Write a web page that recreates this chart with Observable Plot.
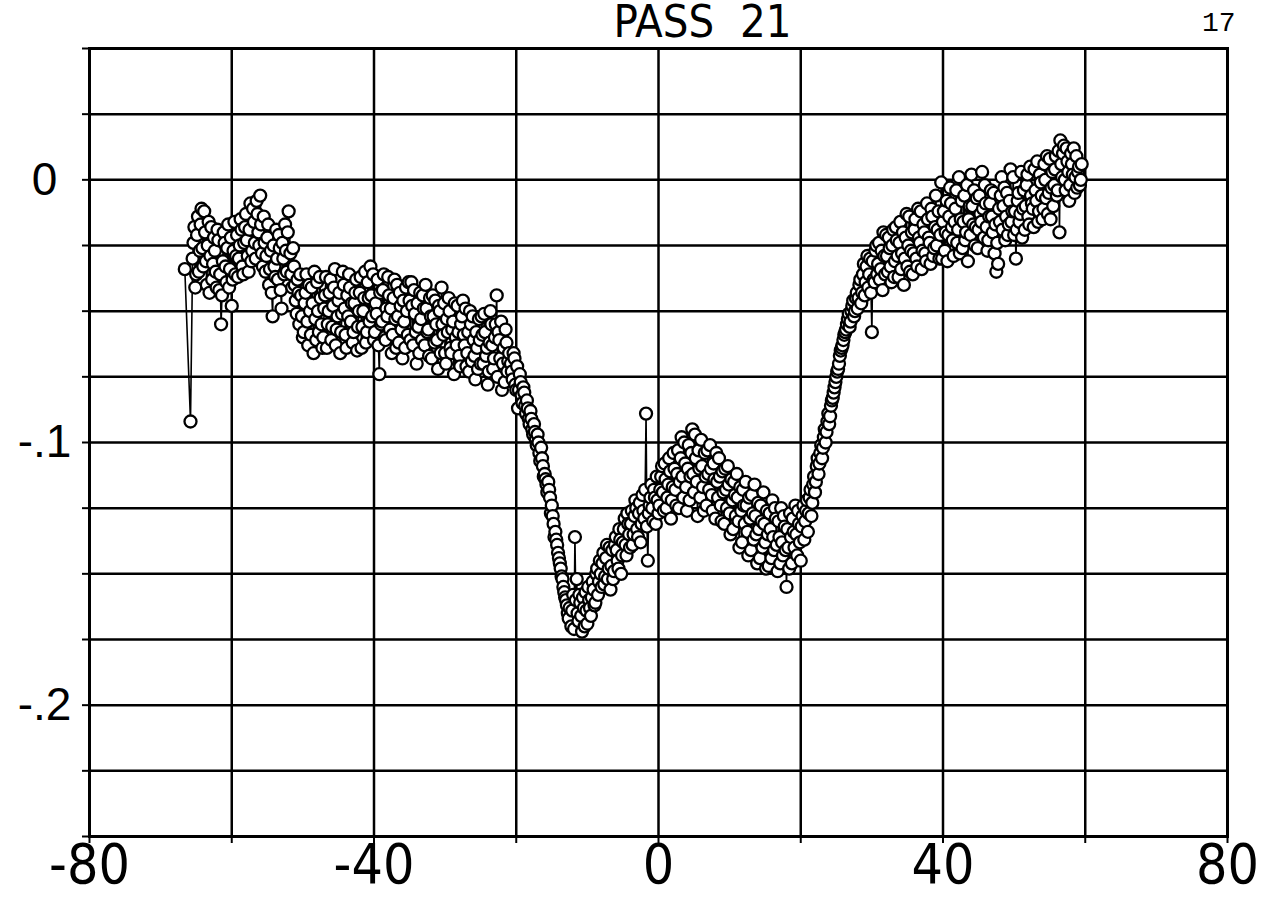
<!DOCTYPE html>
<html>
<head>
<meta charset="utf-8">
<script src="https://cdn.jsdelivr.net/npm/d3@7"></script>
<script src="https://cdn.jsdelivr.net/npm/@observablehq/plot@0.6"></script>
<style>
  html, body { margin: 0; padding: 0; background: #fff; }
  #chart svg { display: block; }
</style>
</head>
<body>
<div id="chart"></div>
<script>
// ---- text ----
const titleText = "PASS  21";
const pageNumber = "17";
const xLabelTicks = [-80, -40, 0, 40, 80];
const xLabelText = ["-80", "-40", "0", "40", "80"];
const yLabelTicks = [0, -0.1, -0.2];
const yLabelText = ["0", "-.1", "-.2"];
const xGrid = [-80, -60, -40, -20, 0, 20, 40, 60, 80];
const yGrid = [0.05, 0.025, 0, -0.025, -0.05, -0.075, -0.1, -0.125, -0.15, -0.175, -0.2, -0.225, -0.25];

// ---- data ----
const startX = [-66.6, -65.8];
const startY = [-.034, -.092];

const segAX = [-65.5,-65.25,-65,-64.75,-64.5,-64.25,-64,-63.75,-63.5,-63.25,-63,-62.75,-62.5,-62.25,-62,-61.75,-61.5,-61.25,-61,-60.75,-60.5,-60.25,-60,-59.75,-59.5,-59.25,-59,-58.75,-58.5,-58.25,-58,-57.75,-57.5,-57.25,-57,-56.75,-56.5,-56.25,-56,-55.75,-55.5,-55.25,-55,-54.75,-54.5,-54.25,-54,-53.75,-53.5,-53.25,-53,-52.75,-52.5,-52.25,-52];
const segAY = [-.030,-.018,-.036,-.014,-.027,-.011,-.033,-.020,-.040,-.016,-.029,-.038,-.022,-.035,-.019,-.042,-.055,-.031,-.024,-.039,-.017,-.034,-.048,-.027,-.036,-.021,-.030,-.015,-.033,-.024,-.013,-.029,-.019,-.031,-.011,-.024,-.008,-.020,-.006,-.028,-.014,-.035,-.022,-.040,-.027,-.052,-.033,-.019,-.038,-.026,-.049,-.030,-.017,-.035,-.012];
const segA2X = [-65.375,-65.125,-64.875,-64.625,-64.375,-64.125,-63.875,-63.625,-63.375,-63.125,-62.875,-62.625,-62.375,-62.125,-61.875,-61.625,-61.375,-61.125,-60.875,-60.625,-60.375,-60.125,-59.875,-59.625,-59.375,-59.125,-58.875,-58.625,-58.375,-58.125,-57.875,-57.625,-57.375,-57.125,-56.875,-56.625,-56.375,-56.125,-55.875,-55.625,-55.375,-55.125,-54.875,-54.625,-54.375,-54.125,-53.875,-53.625,-53.375,-53.125,-52.875,-52.625,-52.375,-52.125];
const segA2Y = [-.024,-.041,-.021,-.035,-.017,-.026,-.012,-.031,-.025,-.043,-.018,-.032,-.027,-.041,-.023,-.036,-.044,-.020,-.033,-.026,-.041,-.022,-.038,-.016,-.029,-.037,-.025,-.019,-.036,-.018,-.023,-.035,-.009,-.027,-.016,-.030,-.013,-.025,-.017,-.033,-.024,-.029,-.017,-.034,-.043,-.025,-.037,-.030,-.021,-.042,-.024,-.036,-.027,-.020];

const segBX = [-51.75,-51.5,-51.25,-51,-50.75,-50.5,-50.25,-50,-49.75,-49.5,-49.25,-49,-48.75,-48.5,-48.25,-48,-47.75,-47.5,-47.25,-47,-46.75,-46.5,-46.25,-46,-45.75,-45.5,-45.25,-45,-44.75,-44.5,-44.25,-44,-43.75,-43.5,-43.25,-43,-42.75,-42.5,-42.25,-42,-41.75,-41.5,-41.25,-41,-40.75,-40.5,-40.25,-40];
const segBY = [-.028,-.041,-.033,-.046,-.038,-.055,-.044,-.060,-.047,-.036,-.063,-.050,-.041,-.066,-.053,-.039,-.058,-.045,-.064,-.049,-.037,-.055,-.043,-.061,-.048,-.034,-.057,-.046,-.066,-.051,-.040,-.059,-.044,-.036,-.054,-.062,-.047,-.038,-.056,-.043,-.064,-.050,-.035,-.058,-.045,-.033,-.052,-.061];
const segB2X = [-51.625,-51.375,-51.125,-50.875,-50.625,-50.375,-50.125,-49.875,-49.625,-49.375,-49.125,-48.875,-48.625,-48.375,-48.125,-47.875,-47.625,-47.375,-47.125,-46.875,-46.625,-46.375,-46.125,-45.875,-45.625,-45.375,-45.125,-44.875,-44.625,-44.375,-44.125,-43.875,-43.625,-43.375,-43.125,-42.875,-42.625,-42.375,-42.125,-41.875,-41.625,-41.375,-41.125,-40.875,-40.625,-40.375,-40.125];
const segB2Y = [-.036,-.026,-.040,-.051,-.043,-.036,-.052,-.058,-.043,-.054,-.040,-.059,-.047,-.035,-.061,-.050,-.037,-.055,-.060,-.044,-.064,-.050,-.038,-.056,-.041,-.063,-.052,-.043,-.058,-.035,-.049,-.064,-.052,-.041,-.047,-.058,-.043,-.065,-.050,-.037,-.056,-.045,-.062,-.039,-.054,-.044,-.036];

const segCX = [-39.75,-39.5,-39.25,-39,-38.75,-38.5,-38.25,-38,-37.75,-37.5,-37.25,-37,-36.75,-36.5,-36.25,-36,-35.75,-35.5,-35.25,-35,-34.75,-34.5,-34.25,-34,-33.75,-33.5,-33.25,-33,-32.75,-32.5,-32.25,-32,-31.75,-31.5,-31.25,-31,-30.75,-30.5,-30.25,-30,-29.75,-29.5,-29.25,-29,-28.75,-28.5,-28.25,-28,-27.75,-27.5,-27.25,-27,-26.75,-26.5,-26.25,-26,-25.75,-25.5,-25.25,-25,-24.75,-24.5,-24.25,-24,-23.75,-23.5,-23.25,-23,-22.75,-22.5,-22.25,-22,-21.75,-21.5,-21.25,-21];
const segCY = [-.047,-.038,-.074,-.055,-.042,-.060,-.049,-.037,-.057,-.066,-.045,-.053,-.040,-.062,-.048,-.068,-.054,-.041,-.059,-.046,-.039,-.063,-.051,-.070,-.056,-.043,-.061,-.049,-.040,-.058,-.067,-.052,-.044,-.062,-.055,-.072,-.050,-.041,-.059,-.066,-.053,-.045,-.064,-.057,-.074,-.060,-.048,-.067,-.055,-.046,-.063,-.071,-.058,-.050,-.069,-.061,-.076,-.064,-.053,-.070,-.059,-.051,-.067,-.078,-.062,-.055,-.072,-.060,-.044,-.058,-.068,-.080,-.064,-.057,-.073,-.066];
const segC2X = [-39.875,-39.625,-39.375,-39.125,-38.875,-38.625,-38.375,-38.125,-37.875,-37.625,-37.375,-37.125,-36.875,-36.625,-36.375,-36.125,-35.875,-35.625,-35.375,-35.125,-34.875,-34.625,-34.375,-34.125,-33.875,-33.625,-33.375,-33.125,-32.875,-32.625,-32.375,-32.125,-31.875,-31.625,-31.375,-31.125,-30.875,-30.625,-30.375,-30.125,-29.875,-29.625,-29.375,-29.125,-28.875,-28.625,-28.375,-28.125,-27.875,-27.625,-27.375,-27.125,-26.875,-26.625,-26.375,-26.125,-25.875,-25.625,-25.375,-25.125,-24.875,-24.625,-24.375,-24.125,-23.875,-23.625,-23.375,-23.125,-22.875,-22.625,-22.375,-22.125,-21.875,-21.625,-21.375,-21.125];
const segC2Y = [-.058,-.051,-.063,-.043,-.054,-.036,-.061,-.052,-.044,-.049,-.059,-.038,-.064,-.052,-.043,-.057,-.046,-.064,-.050,-.039,-.061,-.048,-.042,-.058,-.047,-.066,-.053,-.044,-.063,-.049,-.057,-.045,-.068,-.052,-.046,-.061,-.048,-.066,-.055,-.047,-.070,-.058,-.050,-.066,-.054,-.047,-.063,-.058,-.071,-.052,-.059,-.049,-.066,-.073,-.055,-.052,-.067,-.058,-.072,-.061,-.052,-.070,-.058,-.064,-.073,-.050,-.063,-.068,-.055,-.075,-.061,-.054,-.070,-.077,-.062,-.069];

const segDX = [-20.75,-20.5,-20.25,-20,-19.75,-19.5,-19.25,-19,-18.75,-18.5,-18.25,-18,-17.75,-17.5,-17.25,-17,-16.75,-16.5,-16.25,-16,-15.75,-15.5,-15.25,-15,-14.75,-14.5,-14.25,-14,-13.75,-13.5,-13.25,-13,-12.75,-12.5];
const segDY = [-.070,-.076,-.068,-.080,-.087,-.074,-.082,-.079,-.086,-.084,-.091,-.088,-.095,-.093,-.099,-.097,-.104,-.102,-.109,-.112,-.116,-.115,-.121,-.124,-.131,-.134,-.139,-.144,-.148,-.152,-.157,-.160,-.165,-.163];
const segD2X = [-20.625,-20.375,-20.125,-19.875,-19.625,-19.375,-19.125,-18.875,-18.625,-18.375,-18.125,-17.875,-17.625,-17.375,-17.125,-16.875,-16.625,-16.375,-16.125,-15.875,-15.625,-15.375,-15.125,-14.875,-14.625,-14.375,-14.125,-13.875,-13.625,-13.375,-13.125,-12.875,-12.625];
const segD2Y = [-.073,-.066,-.078,-.071,-.080,-.077,-.085,-.081,-.089,-.087,-.093,-.091,-.097,-.096,-.101,-.100,-.107,-.106,-.113,-.114,-.119,-.118,-.127,-.128,-.136,-.137,-.142,-.146,-.151,-.155,-.159,-.162,-.167];

const segEX = [-12.25,-12,-11.75,-11.5,-11.25,-11,-10.75,-10.5,-10.25,-10,-9.75,-9.5,-9.25,-9,-8.75,-8.5,-8.25,-8,-7.75,-7.5,-7.25,-7,-6.75,-6.5,-6.25,-6,-5.75,-5.5,-5.25,-5,-4.75,-4.5,-4.25,-4,-3.75,-3.5,-3.25,-3,-2.75,-2.5,-2.25,-2,-1.75,-1.5,-1.25,-1,-0.75,-0.5,-0.25,0];
const segEY = [-.170,-.158,-.136,-.152,-.168,-.161,-.172,-.163,-.157,-.169,-.160,-.166,-.153,-.162,-.150,-.158,-.145,-.155,-.142,-.151,-.139,-.148,-.156,-.141,-.149,-.136,-.145,-.133,-.150,-.138,-.129,-.143,-.131,-.140,-.126,-.135,-.122,-.133,-.127,-.138,-.120,-.129,-.089,-.145,-.124,-.116,-.130,-.121,-.113,-.127];
const segE2X = [-12.125,-11.875,-11.625,-11.375,-11.125,-10.875,-10.625,-10.375,-10.125,-9.875,-9.625,-9.375,-9.125,-8.875,-8.625,-8.375,-8.125,-7.875,-7.625,-7.375,-7.125,-6.875,-6.625,-6.375,-6.125,-5.875,-5.625,-5.375,-5.125,-4.875,-4.625,-4.375,-4.125,-3.875,-3.625,-3.375,-3.125,-2.875,-2.625,-2.375,-2.125,-1.875,-1.625,-1.375,-1.125,-0.875,-0.625,-0.375,-0.125];
const segE2Y = [-.164,-.171,-.160,-.165,-.158,-.166,-.159,-.170,-.164,-.155,-.163,-.159,-.156,-.161,-.148,-.153,-.150,-.146,-.154,-.144,-.152,-.140,-.147,-.152,-.139,-.141,-.148,-.137,-.143,-.133,-.139,-.127,-.135,-.131,-.139,-.128,-.125,-.136,-.123,-.131,-.126,-.118,-.132,-.127,-.121,-.125,-.118,-.131,-.122];

const segFX = [0.25,0.5,0.75,1,1.25,1.5,1.75,2,2.25,2.5,2.75,3,3.25,3.5,3.75,4,4.25,4.5,4.75,5,5.25,5.5,5.75,6,6.25,6.5,6.75,7,7.25,7.5,7.75,8,8.25,8.5,8.75,9,9.25,9.5,9.75,10,10.25,10.5,10.75,11,11.25,11.5,11.75,12,12.25,12.5,12.75,13,13.25,13.5,13.75,14,14.25,14.5,14.75,15,15.25,15.5,15.75,16,16.25,16.5,16.75,17,17.25,17.5,17.75,18,18.25,18.5,18.75,19,19.25,19.5,19.75,20,20.25,20.5];
const segFY = [-.118,-.109,-.126,-.114,-.121,-.106,-.129,-.117,-.110,-.124,-.103,-.115,-.098,-.121,-.108,-.126,-.101,-.113,-.095,-.119,-.106,-.128,-.110,-.099,-.117,-.104,-.124,-.112,-.101,-.120,-.108,-.129,-.115,-.106,-.124,-.111,-.131,-.118,-.109,-.127,-.114,-.133,-.120,-.112,-.130,-.117,-.138,-.124,-.115,-.134,-.121,-.141,-.127,-.116,-.135,-.123,-.144,-.130,-.119,-.138,-.126,-.147,-.133,-.122,-.141,-.129,-.149,-.136,-.125,-.143,-.132,-.155,-.140,-.127,-.146,-.134,-.124,-.143,-.131,-.145,-.128,-.137];
const segF2X = [0.125,0.375,0.625,0.875,1.125,1.375,1.625,1.875,2.125,2.375,2.625,2.875,3.125,3.375,3.625,3.875,4.125,4.375,4.625,4.875,5.125,5.375,5.625,5.875,6.125,6.375,6.625,6.875,7.125,7.375,7.625,7.875,8.125,8.375,8.625,8.875,9.125,9.375,9.625,9.875,10.125,10.375,10.625,10.875,11.125,11.375,11.625,11.875,12.125,12.375,12.625,12.875,13.125,13.375,13.625,13.875,14.125,14.375,14.625,14.875,15.125,15.375,15.625,15.875,16.125,16.375,16.625,16.875,17.125,17.375,17.625,17.875,18.125,18.375,18.625,18.875,19.125,19.375,19.625,19.875,20.125,20.375];
const segF2Y = [-.124,-.113,-.119,-.108,-.125,-.116,-.111,-.122,-.104,-.118,-.112,-.125,-.106,-.113,-.100,-.117,-.110,-.122,-.104,-.112,-.097,-.115,-.103,-.121,-.109,-.126,-.113,-.103,-.118,-.110,-.126,-.114,-.104,-.121,-.113,-.130,-.119,-.110,-.125,-.116,-.135,-.122,-.115,-.128,-.121,-.140,-.126,-.118,-.131,-.124,-.143,-.129,-.120,-.137,-.128,-.146,-.133,-.124,-.140,-.131,-.148,-.135,-.127,-.144,-.136,-.125,-.139,-.130,-.146,-.138,-.128,-.141,-.133,-.148,-.136,-.129,-.140,-.135,-.126,-.138,-.132,-.124];

const segGX = [20.75,21,21.25,21.5,21.75,22,22.25,22.5,22.75,23,23.25,23.5,23.75,24,24.25,24.5,24.75,25,25.25,25.5,25.75,26,26.25,26.5,26.75,27,27.25,27.5,27.75,28];
const segGY = [-.126,-.134,-.121,-.128,-.116,-.119,-.109,-.112,-.104,-.106,-.098,-.100,-.092,-.093,-.086,-.083,-.079,-.075,-.072,-.067,-.064,-.061,-.058,-.055,-.051,-.054,-.048,-.052,-.045,-.049];
const segG2X = [20.625,20.875,21.125,21.375,21.625,21.875,22.125,22.375,22.625,22.875,23.125,23.375,23.625,23.875,24.125,24.375,24.625,24.875,25.125,25.375,25.625,25.875,26.125,26.375,26.625,26.875,27.125,27.375,27.625,27.875];
const segG2Y = [-.130,-.122,-.127,-.118,-.123,-.113,-.115,-.106,-.108,-.101,-.102,-.095,-.096,-.089,-.090,-.084,-.081,-.077,-.073,-.070,-.065,-.063,-.059,-.057,-.053,-.056,-.050,-.046,-.050,-.043];

const segHX = [28.25,28.5,28.75,29,29.25,29.5,29.75,30,30.25,30.5,30.75,31,31.25,31.5,31.75,32,32.25,32.5,32.75,33,33.25,33.5,33.75,34,34.25,34.5,34.75,35,35.25,35.5,35.75,36,36.25,36.5,36.75,37,37.25,37.5,37.75,38,38.25,38.5,38.75,39,39.25,39.5,39.75,40];
const segHY = [-.040,-.047,-.036,-.044,-.033,-.041,-.030,-.058,-.038,-.027,-.036,-.024,-.034,-.042,-.029,-.021,-.035,-.026,-.039,-.019,-.031,-.023,-.037,-.016,-.028,-.040,-.022,-.033,-.014,-.027,-.036,-.019,-.030,-.011,-.024,-.034,-.017,-.028,-.009,-.022,-.032,-.014,-.026,-.006,-.019,-.030,-.001,-.016];
const segH2X = [28.125,28.375,28.625,28.875,29.125,29.375,29.625,29.875,30.125,30.375,30.625,30.875,31.125,31.375,31.625,31.875,32.125,32.375,32.625,32.875,33.125,33.375,33.625,33.875,34.125,34.375,34.625,34.875,35.125,35.375,35.625,35.875,36.125,36.375,36.625,36.875,37.125,37.375,37.625,37.875,38.125,38.375,38.625,38.875,39.125,39.375,39.625,39.875];
const segH2Y = [-.045,-.038,-.043,-.032,-.039,-.029,-.036,-.043,-.031,-.039,-.025,-.032,-.038,-.027,-.020,-.036,-.029,-.022,-.033,-.025,-.037,-.018,-.029,-.024,-.034,-.020,-.030,-.013,-.025,-.035,-.020,-.028,-.015,-.033,-.022,-.012,-.027,-.020,-.031,-.015,-.024,-.011,-.029,-.018,-.025,-.012,-.021,-.030];

const segIX = [40.25,40.5,40.75,41,41.25,41.5,41.75,42,42.25,42.5,42.75,43,43.25,43.5,43.75,44,44.25,44.5,44.75,45,45.25,45.5,45.75,46,46.25,46.5,46.75,47,47.25,47.5,47.75,48,48.25,48.5,48.75,49,49.25,49.5,49.75,50,50.25,50.5,50.75,51,51.25,51.5,51.75,52,52.25,52.5,52.75,53,53.25,53.5,53.75,54,54.25,54.5,54.75,55,55.25,55.5,55.75,56,56.25,56.5,56.75,57,57.25,57.5,57.75,58,58.25,58.5,58.75,59,59.25,59.5];
const segIY = [-.027,-.008,-.021,-.003,-.018,-.029,-.011,-.024,.001,-.015,-.026,-.006,-.020,-.031,-.010,.002,-.017,-.025,-.007,-.019,-.013,.003,-.022,-.009,-.027,-.014,-.004,-.020,-.028,-.035,-.032,-.016,.001,-.010,-.023,-.005,-.017,.004,-.012,-.021,-.030,-.008,-.016,.003,-.011,-.019,-.002,-.014,.005,-.009,-.018,-.004,.007,-.012,-.001,-.015,.006,-.007,-.013,.008,-.003,-.010,.004,-.006,.011,.015,.001,.013,-.004,.007,-.008,.010,.002,-.005,.009,.003,-.002,.006];
const segI2X = [40.125,40.375,40.625,40.875,41.125,41.375,41.625,41.875,42.125,42.375,42.625,42.875,43.125,43.375,43.625,43.875,44.125,44.375,44.625,44.875,45.125,45.375,45.625,45.875,46.125,46.375,46.625,46.875,47.125,47.375,47.625,47.875,48.125,48.375,48.625,48.875,49.125,49.375,49.625,49.875,50.125,50.375,50.625,50.875,51.125,51.375,51.625,51.875,52.125,52.375,52.625,52.875,53.125,53.375,53.625,53.875,54.125,54.375,54.625,54.875,55.125,55.375,55.625,55.875,56.125,56.375,56.625,56.875,57.125,57.375,57.625,57.875,58.125,58.375,58.625,58.875,59.125,59.375];
const segI2Y = [-.012,-.020,-.031,-.014,-.009,-.023,-.016,-.004,-.019,-.028,-.008,-.016,-.023,-.002,-.015,-.021,-.010,-.004,-.018,-.026,-.006,-.016,-.011,-.002,-.018,-.023,-.009,-.014,-.005,-.017,-.024,-.011,-.006,-.019,-.003,-.014,-.021,-.008,-.016,.001,-.012,-.019,-.005,-.013,-.022,-.004,-.010,.002,-.017,-.006,-.011,.004,-.008,-.016,.002,-.006,-.011,.000,.009,-.005,-.015,.003,-.002,.009,-.004,-.020,.006,.010,.000,.012,.003,-.002,.006,.012,.001,-.003,.005,.000];

// ---- assemble (one connected series, in order of x) ----
const segments = [
  [startX, startY], [segAX, segAY], [segA2X, segA2Y], [segBX, segBY], [segB2X, segB2Y],
  [segCX, segCY], [segC2X, segC2Y], [segDX, segDY], [segD2X, segD2Y], [segEX, segEY], [segE2X, segE2Y],
  [segFX, segFY], [segF2X, segF2Y], [segGX, segGY], [segG2X, segG2Y], [segHX, segHY], [segH2X, segH2Y],
  [segIX, segIY], [segI2X, segI2Y]
];
const points = [];
for (const [xs, ys] of segments) xs.forEach((x, i) => points.push({x, y: ys[i]}));
points.sort((a, b) => a.x - b.x);

const narrow = "'Liberation Sans Narrow', 'DejaVu Sans Condensed', 'Liberation Sans', sans-serif";

const chart = Plot.plot({
  width: 1281,
  height: 898,
  marginLeft: 89,
  marginRight: 54,
  marginTop: 48,
  marginBottom: 62,
  style: {background: "white", color: "black"},
  x: {domain: [-80, 80], label: null},
  y: {domain: [-0.25, 0.05], label: null},
  marks: [
    Plot.ruleX(xGrid, {stroke: "black", strokeWidth: 2.5}),
    Plot.ruleY(yGrid, {stroke: "black", strokeWidth: 2.5}),
    Plot.frame({stroke: "black", strokeWidth: 3}),
    Plot.axisX({ticks: xGrid, tickSize: 7, strokeWidth: 2, label: null, tickFormat: () => ""}),
    Plot.axisX({ticks: xLabelTicks, tickSize: 0, tickPadding: 7, fontSize: 55, fontFamily: narrow, label: null,
      tickFormat: d => xLabelText[xLabelTicks.indexOf(d)]}),
    Plot.axisY({ticks: yGrid, tickSize: 7, strokeWidth: 2, label: null, tickFormat: () => ""}),
    Plot.axisY({ticks: yLabelTicks, tickSize: 0, tickPadding: 45, textAnchor: "middle", fontSize: 46, label: null,
      fontFamily: "'Liberation Sans', Arial, sans-serif",
      tickFormat: d => yLabelText[yLabelTicks.indexOf(d)]}),
    Plot.line(points, {x: "x", y: "y", stroke: "black", strokeWidth: 1.6}),
    Plot.dot(points, {x: "x", y: "y", r: 6, fill: "white", stroke: "black", strokeWidth: 2.3}),
    Plot.text([titleText], {frameAnchor: "top", dx: 44, dy: -12, lineAnchor: "bottom",
      fontSize: 45, fontFamily: narrow, fill: "black"}),
    Plot.text([pageNumber], {frameAnchor: "top-right", textAnchor: "end", dx: 8, dy: -18, lineAnchor: "bottom",
      fontSize: 28, fontFamily: "'Liberation Mono', 'DejaVu Sans Mono', monospace", fill: "black"})
  ]
});
document.getElementById("chart").appendChild(chart);
</script>
</body>
</html>
